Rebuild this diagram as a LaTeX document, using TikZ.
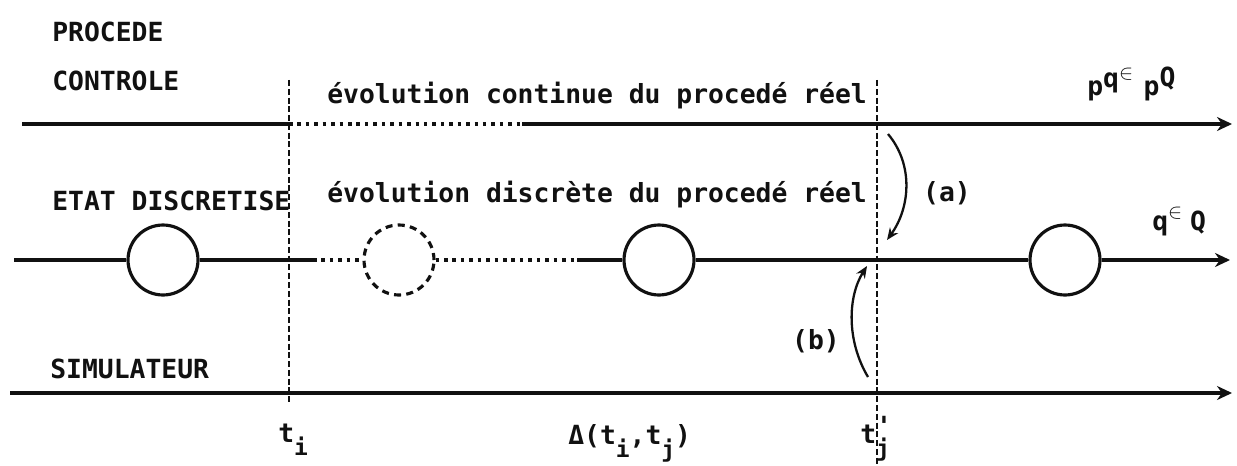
\documentclass[tikz,border=0pt]{standalone}
\usepackage{fontspec}
\newfontfamily\typefont{DejaVu Sans Mono}
\usetikzlibrary{arrows.meta}
\definecolor{ink}{HTML}{111111}
\newcommand{\dn}[1]{\raisebox{-0.95ex}{\fontsize{13}{15}\selectfont #1}}
\tikzset{
  axis/.style={draw=ink, line width=1.8pt},
  axarr/.style={axis, -{Stealth[length=3mm, width=2.8mm]}},
  dotseg/.style={draw=ink, line width=1.8pt, dash pattern=on 2pt off 2.8pt},
  tmark/.style={draw=ink, line width=1.5pt, dash pattern=on 3.4pt off 1.6pt},
  state/.style={circle, draw=ink, line width=1.8pt, minimum size=1.4cm, inner sep=0pt},
  ghost/.style={state, dash pattern=on 4pt off 3pt},
  txt/.style={font=\typefont\bfseries\fontsize{15}{18}\selectfont, text=ink, anchor=base west, inner sep=0pt},
  bendarr/.style={draw=ink, line width=1.3pt, -{Stealth[length=2.4mm, width=2mm]}},
}

\begin{document}
\begin{tikzpicture}[x=0.02cm, y=-0.02cm]
  \path[use as bounding box, fill=white] (0,0) rectangle (1237,466);

  % row titles
  \node[txt] (proc) at (52,42) {PROCEDE};
  \node[txt] (ctrl) at (52,91) {CONTROLE};
  \node[txt] (etat) at (52,210) {ETAT DISCRETISE};
  \node[txt] (simu) at (50,378) {SIMULATEUR};
  \node[txt] (evc) at (327,104) {évolution continue du procedé réel};
  \node[txt] (evd) at (327,202) {évolution discrète du procedé réel};

  % time marks
  \coordinate (tiT) at (289,80);
  \coordinate (tiB) at (289,402);
  \coordinate (tjT) at (877,80);
  \coordinate (tjB) at (877,464);
  \draw[tmark] (tiT) -- (tiB);
  \draw[tmark] (tjT) -- (tjB);
  \node[txt] (ti) at (278,442) {t\dn{i}};
  \node[txt] (dij) at (568,444) {Δ(t\dn{i},t\dn{j})};
  \node[txt] (tj) at (860,443) {t\rlap{\raisebox{0.5ex}{'}}\dn{j}};

  % real process line
  \coordinate (pL) at (22,124);
  \coordinate (pA) at (289,124);
  \coordinate (pB) at (522,124);
  \coordinate (pR) at (1232,124);
  \draw[axis] (pL) -- (pA);
  \draw[dotseg] (pA) -- (pB);
  \draw[axarr] (pB) -- (pR);
  \node[txt] (pq) at (1087,95) {p\raisebox{0.5ex}{q}\raisebox{1.1ex}{\fontsize{13}{15}\selectfont$\in$}\hspace{0.4em}p\raisebox{0.6ex}{Q}};

  % discrete states
  \node[state] (s1) at (163,260) {};
  \node[ghost] (s2) at (399,260) {};
  \node[state] (s3) at (659,260) {};
  \node[state] (s4) at (1065,260) {};
  \coordinate (qL) at (14,260);
  \coordinate (qA) at (313,260);
  \coordinate (qB) at (577,260);
  \coordinate (qR) at (1230,260);
  \draw[axis] (qL) -- (s1);
  \draw[axis] (s1) -- (qA);
  \draw[dotseg] (qA) -- (s2);
  \draw[dotseg] (s2) -- (qB);
  \draw[axis] (qB) -- (s3);
  \draw[axis] (s3) -- (s4);
  \draw[axarr] (s4) -- (qR);
  \node[txt] (qq) at (1152,230) {q\raisebox{0.8ex}{\fontsize{13}{15}\selectfont$\in$}\hspace{0.3em}Q};

  % simulator line
  \coordinate (sL) at (10,393);
  \coordinate (sR) at (1232,393);
  \draw[axarr] (sL) -- (sR);

  % exchanges at t'j
  \coordinate (aS) at (888,134);
  \coordinate (aE) at (887,240);
  \coordinate (bS) at (868,377);
  \coordinate (bE) at (867,266);
  \draw[bendarr] (aS) .. controls (914,165) and (910,208) .. (aE);
  \draw[bendarr] (bS) .. controls (846,340) and (848,296) .. (bE);
  \node[txt, anchor=center] (la) at (947,193) {(a)};
  \node[txt, anchor=center] (lb) at (816,341) {(b)};
\end{tikzpicture}
\end{document}
